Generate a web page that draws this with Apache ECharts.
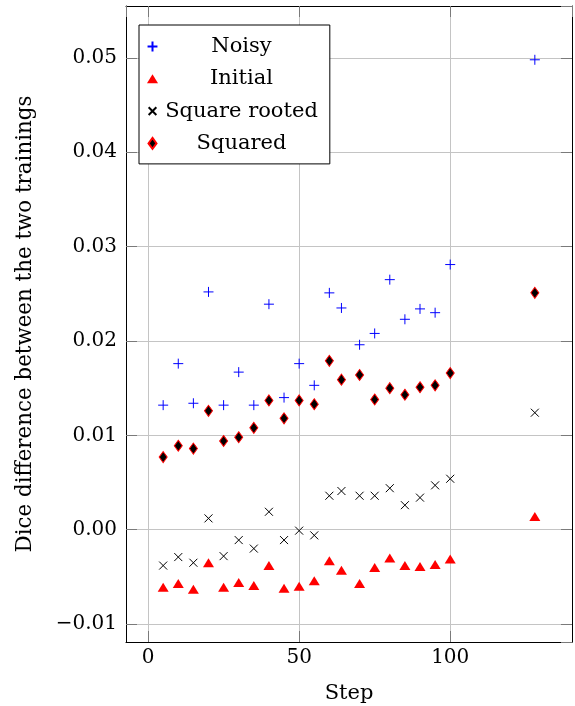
<!DOCTYPE html>
<html>
<head>
<meta charset="utf-8">
<script src="https://cdn.jsdelivr.net/npm/echarts@6/dist/echarts.min.js"></script>
<style>
  html, body { margin: 0; padding: 0; background: #fff; }
  #chart { width: 575px; height: 706px; }
</style>
</head>
<body>
<div id="chart"></div>
<script>
// Training steps at which the two runs were compared
const steps = [5, 10, 15, 20, 25, 30, 35, 40, 45, 50, 55, 60, 64, 70, 75, 80, 85, 90, 95, 100, 128];

// Dice difference per weighting scheme
const noisy = [0.0132, 0.0176, 0.0134, 0.0252, 0.0132, 0.0167, 0.0132, 0.0239, 0.0140, 0.0176, 0.0153,
               0.0251, 0.0235, 0.0196, 0.0208, 0.0265, 0.0223, 0.0234, 0.0230, 0.0281, 0.0498];
const initial = [-0.0061, -0.0057, -0.0063, -0.0035, -0.0061, -0.0056, -0.0059, -0.0038, -0.0062, -0.0060, -0.0054,
                 -0.0033, -0.0043, -0.0057, -0.0040, -0.0030, -0.0038, -0.0039, -0.0037, -0.0031, 0.0014];
const squareRooted = [-0.0038, -0.0029, -0.0035, 0.0012, -0.0028, -0.0011, -0.0020, 0.0019, -0.0011, -0.0001, -0.0006,
                      0.0036, 0.0041, 0.0036, 0.0036, 0.0044, 0.0026, 0.0034, 0.0047, 0.0054, 0.0124];
const squared = [0.0077, 0.0089, 0.0086, 0.0126, 0.0094, 0.0098, 0.0108, 0.0137, 0.0118, 0.0137, 0.0133,
                 0.0179, 0.0159, 0.0164, 0.0138, 0.0150, 0.0143, 0.0151, 0.0153, 0.0166, 0.0251];

const seriesNames = ['Noisy', 'Initial', 'Square rooted', 'Squared'];

// Axis ranges padded by 10% of the data span on each side
const xMin = -7.3, xMax = 140.3;
const yMin = -0.0119, yMax = 0.0555;

const FONT = 'DejaVu Serif';
const PLUS = 'path://M0,-5L0,5M-5,0L5,0';
const CROSS = 'path://M-4,-4L4,4M-4,4L4,-4';
// Legend keys share one 10x10 box; leading moves pad each glyph to that box
const KEY_PLUS = 'path://M-5,-5M5,5M0,-4.5L0,4.5M-4.5,0L4.5,0';
const KEY_TRI = 'path://M-5.5,-5.5M5.5,5.5M0,-4.5L5.5,4.5L-5.5,4.5Z';
const KEY_CROSS = 'path://M-5,-5M5,5M-3.5,-3.5L3.5,3.5M-3.5,3.5L3.5,-3.5';
const KEY_DIAMOND = 'path://M-5.5,-5.5M5.5,5.5M0,-5.5L4,0L0,5.5L-4,0Z';

function pairs(ys) { return steps.map((s, i) => [s, ys[i]]); }

function fmtY(v) {
  if (Math.abs(v) < 1e-9) return '0.00';
  return (v < 0 ? '\u2212' : '') + Math.abs(v).toFixed(2);
}

const tickStyle = { show: true, inside: true, length: 11, lineStyle: { color: '#7a7a7a', width: 1 } };
const gridLine = { show: true, lineStyle: { color: '#c4c4c4', width: 1 } };
const frame = { show: true, onZero: false, lineStyle: { color: '#000', width: 1 } };

const chart = echarts.init(document.getElementById('chart'), null, { renderer: 'canvas' });
chart.setOption({
  animation: false,
  backgroundColor: '#fff',
  grid: { left: 126, right: 3, top: 6, bottom: 64, containLabel: false, outerBoundsMode: 'none' },
  legend: {
    orient: 'vertical',
    left: 139, top: 25,
    padding: [11, 12, 10, 7],
    itemGap: 11.3,
    itemWidth: 11, itemHeight: 11,
    backgroundColor: '#fff',
    borderColor: '#000', borderWidth: 1, borderRadius: 0,
    data: [
      { name: 'Noisy', icon: KEY_PLUS },
      { name: 'Initial', icon: KEY_TRI },
      { name: 'Square rooted', icon: KEY_CROSS },
      { name: 'Squared', icon: KEY_DIAMOND }
    ],
    formatter: n => '{t|' + n + '}',
    textStyle: {
      color: '#000', fontFamily: FONT, fontSize: 21,
      rich: { t: { width: 157, align: 'center', fontFamily: FONT, fontSize: 21, color: '#000' } }
    }
  },
  xAxis: [
    {
      type: 'value', position: 'bottom', min: xMin, max: xMax, splitNumber: 3,
      name: 'Step', nameLocation: 'middle', nameGap: 41,
      nameTextStyle: { color: '#000', fontFamily: FONT, fontSize: 21 },
      axisLine: frame, axisTick: tickStyle, splitLine: gridLine,
      axisLabel: { color: '#000', fontFamily: FONT, fontSize: 20, margin: 6, showMinLabel: false, showMaxLabel: false }
    },
    {
      type: 'value', position: 'top', min: xMin, max: xMax, splitNumber: 3,
      axisLine: frame, axisTick: tickStyle, splitLine: { show: false }, axisLabel: { show: false }
    }
  ],
  yAxis: [
    {
      type: 'value', position: 'left', min: yMin, max: yMax, splitNumber: 7,
      name: 'Dice difference between the two trainings', nameLocation: 'middle', nameGap: 90,
      nameTextStyle: { color: '#000', fontFamily: FONT, fontSize: 21.4 },
      axisLine: frame, axisTick: tickStyle, splitLine: gridLine,
      axisLabel: { color: '#000', fontFamily: FONT, fontSize: 20, margin: 9, formatter: fmtY, showMinLabel: false, showMaxLabel: false }
    },
    {
      type: 'value', position: 'right', min: yMin, max: yMax, splitNumber: 7,
      axisLine: frame, axisTick: tickStyle, splitLine: { show: false }, axisLabel: { show: false }
    }
  ],
  series: [
    {
      name: seriesNames[0], type: 'scatter', data: pairs(noisy),
      symbol: PLUS, symbolSize: 10,
      itemStyle: { color: 'rgba(0,0,0,0)', borderColor: '#0000ff', borderWidth: 1, opacity: 1 }
    },
    {
      name: seriesNames[1], type: 'scatter', data: pairs(initial),
      symbol: 'triangle', symbolSize: [11, 9],
      itemStyle: { color: '#ff0000', opacity: 1 }
    },
    {
      name: seriesNames[2], type: 'scatter', data: pairs(squareRooted),
      symbol: CROSS, symbolSize: 8,
      itemStyle: { color: 'rgba(0,0,0,0)', borderColor: '#000', borderWidth: 1, opacity: 1 }
    },
    {
      name: seriesNames[3], type: 'scatter', data: pairs(squared),
      symbol: 'diamond', symbolSize: [8, 11],
      itemStyle: { color: '#000', borderColor: '#ff0000', borderWidth: 1, opacity: 1 }
    }
  ]
});
</script>
</body>
</html>
